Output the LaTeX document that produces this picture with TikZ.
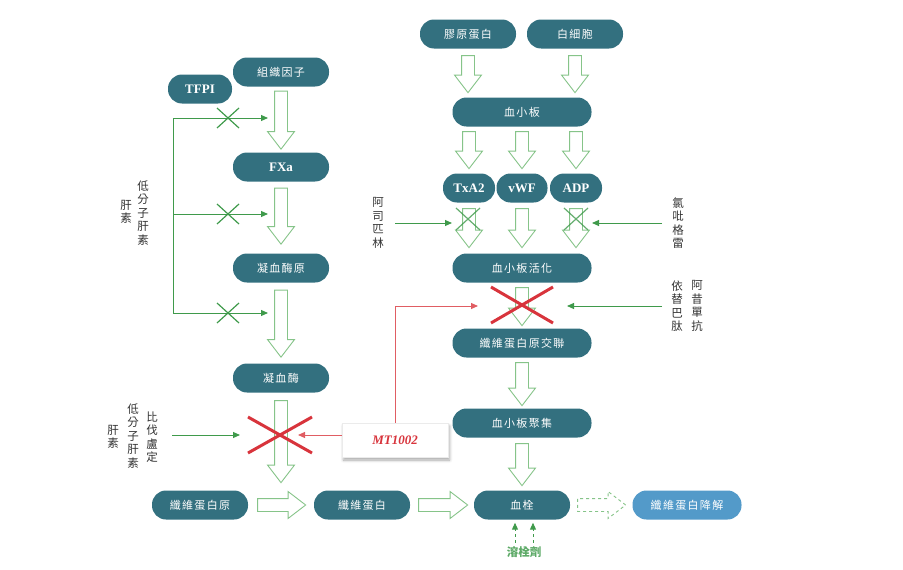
\documentclass[tikz,border=0pt]{standalone}
\usepackage{fontspec}
\setmainfont{Liberation Serif}
\newfontfamily\cjk[LetterSpace=12]{Noto Sans CJK TC}
\newfontfamily\cjkv{Noto Sans CJK TC}
\usetikzlibrary{shapes.arrows,arrows.meta,shadows.blur}

\definecolor{pillteal}{HTML}{33707F}
\definecolor{pillblue}{HTML}{539AC9}
\definecolor{hgreen}{HTML}{86C489}
\definecolor{ggreen}{HTML}{3F9A4B}
\definecolor{xred}{HTML}{D8343C}
\definecolor{labgray}{HTML}{333333}

\tikzset{
  pill/.style={rounded corners=14pt, fill=pillteal, text=white, minimum height=29pt,
    minimum width=96pt, inner sep=0pt, font=\cjk\fontsize{11}{13}\selectfont},
  latin/.style={font=\bfseries\fontsize{13}{15}\selectfont},
  hollow/.style={single arrow, draw=hgreen, fill=white, line width=0.9pt,
    inner sep=6pt, single arrow head extend=7pt, anchor=tail,
    single arrow tip angle=75, single arrow head indent=0pt, minimum height=#1},
  hdown/.style={hollow=#1, shape border rotate=270},
  hright/.style={hollow=#1},
  vlab/.style={align=center, text=labgray, inner sep=0pt,
    font=\cjkv\fontsize{11.5}{13.5}\selectfont},
  garrow/.style={ggreen, line width=1pt, -{Triangle[length=7pt,width=6pt]}},
  rarrow/.style={xred!80, line width=1pt, -{Triangle[length=7pt,width=6pt]}},
  gx/.style={ggreen, line width=1.2pt},
  rx/.style={xred, line width=3pt},
}

\begin{document}
\begin{tikzpicture}[x=1pt,y=-1pt]
  \useasboundingbox (0,0) rectangle (903,570);

  % coagulation cascade
  \node[pill] (tf) at (281,72) {組織因子};
  \node[pill, latin, minimum width=64pt] (tfpi) at (200,89) {TFPI};
  \node[pill, latin] (fxa) at (281,167) {FXa};
  \node[pill] (pro) at (281,268) {凝血酶原};
  \node[pill] (thr) at (281,378) {凝血酶};

  \node[hdown=58] (a1) at ([yshift=-4pt]tf.south) {};
  \node[hdown=56] (a2) at ([yshift=-6pt]fxa.south) {};
  \node[hdown=67] (a3) at ([yshift=-7pt]pro.south) {};

  % bottom row
  \node[pill] (fbg) at (200,505) {纖維蛋白原};
  \node[pill] (fbn) at (362,505) {纖維蛋白};
  \node[pill] (clot) at (522,505) {血栓};
  \node[pill, fill=pillblue, minimum width=109pt] (fdp) at (687,505) {纖維蛋白降解};

  \node[hdown=82] (a4) at ([yshift=-7.5pt]thr.south) {};
  \node[hright=48] (a5) at ([xshift=9pt]fbg.east) {};
  \node[hright=49] (a6) at ([xshift=8pt]fbn.east) {};
  \node[hright=48, dashed] (a7) at ([xshift=7pt]clot.east) {};

  % heparins
  \coordinate (hep) at (173,118);
  \draw[ggreen, line width=1pt] (hep) -- (173,313);
  \draw[garrow] (hep) -- (268,118);
  \draw[garrow] (173,214) -- (268,214);
  \draw[garrow] (173,313) -- (268,313);
  \draw[gx] (228,118) +(-11,-10) -- +(11,10) +(-11,10) -- +(11,-10);
  \draw[gx] (228,214) +(-11,-10) -- +(11,10) +(-11,10) -- +(11,-10);
  \draw[gx] (228,313) +(-11,-10) -- +(11,10) +(-11,10) -- +(11,-10);
  \node[vlab] (lmwh) at (143,213) {低\\分\\子\\肝\\素};
  \node[vlab] (uh) at (126,212) {肝\\素};

  \node[vlab] (biv) at (152,437) {比\\伐\\盧\\定};
  \node[vlab] (lmwh2) at (133,436) {低\\分\\子\\肝\\素};
  \node[vlab] (uh2) at (113,437) {肝\\素};
  \draw[garrow] (172,435) -- (240,435);

  % MT1002
  \node[draw=black!8, fill=white, minimum width=106pt, minimum height=34pt,
    blur shadow={shadow xshift=1.5pt, shadow yshift=-3pt, shadow opacity=35,
      shadow blur steps=6, shadow blur radius=3pt},
    text=xred, font=\bfseries\itshape\fontsize{13}{15}\selectfont] (mt) at (395,440) {MT1002};
  \draw[rarrow] ([yshift=5pt]mt.west) -- (298,435);
  \draw[rarrow] (mt.north) |- (478,306);
  \draw[rx] (280,435) +(-32,-18) -- +(32,18) +(-32,18) -- +(32,-18);

  % platelet pathway
  \node[pill] (col) at (468,34) {膠原蛋白};
  \node[pill] (wbc) at (575,34) {白細胞};
  \node[pill, minimum width=139pt] (plt) at (522,112) {血小板};
  \node[pill, latin, minimum width=52pt] (txa) at (469,188) {TxA2};
  \node[pill, latin, minimum width=51pt] (vwf) at (522,188) {vWF};
  \node[pill, latin, minimum width=52pt] (adp) at (576,188) {ADP};
  \node[pill, minimum width=139pt] (act) at (522,268) {血小板活化};
  \node[pill, minimum width=139pt] (xl) at (522,343) {纖維蛋白原交聯};
  \node[pill, minimum width=139pt] (agg) at (522,423) {血小板聚集};

  \node[hdown=37] (b1) at ([yshift=-6.5pt]col.south) {};
  \node[hdown=37] (b2) at ([yshift=-6.5pt]wbc.south) {};
  \node[hdown=37] (b3) at ([yshift=-4.5pt]txa |- plt.south) {};
  \node[hdown=37] (b4) at ([yshift=-4.5pt]plt.south) {};
  \node[hdown=37] (b5) at ([yshift=-4.5pt]adp |- plt.south) {};
  \node[hdown=39] (b6) at ([yshift=-5.5pt]txa.south) {};
  \node[hdown=39] (b7) at ([yshift=-5.5pt]vwf.south) {};
  \node[hdown=39] (b8) at ([yshift=-5.5pt]adp.south) {};
  \node[hdown=38] (b9) at ([yshift=-4.5pt]act.south) {};
  \node[hdown=43] (b10) at ([yshift=-4.5pt]xl.south) {};
  \node[hdown=42] (b11) at ([yshift=-5.5pt]agg.south) {};

  \node[vlab] (asp) at (378,223) {阿\\司\\匹\\林};
  \node[vlab] (clo) at (678,223) {氯\\吡\\格\\雷};
  \draw[garrow] (395,223) -- (452,223);
  \draw[garrow] (662,223) -- (592,223);
  \draw[gx, opacity=0.8] (468,219) +(-12,-11) -- +(12,11) +(-12,11) -- +(12,-11);
  \draw[gx, opacity=0.8] (576,219) +(-12,-11) -- +(12,11) +(-12,11) -- +(12,-11);

  \node[vlab] (abc) at (697,306) {阿\\昔\\單\\抗};
  \node[vlab] (ept) at (677,306) {依\\替\\巴\\肽};
  \draw[garrow] (662,306) -- (567,306);
  \draw[rx] (522,305) +(-31,-18) -- +(31,18) +(-31,18) -- +(31,-18);

  % thrombolytics
  \node[text=ggreen!85, font=\cjkv\bfseries\fontsize{11.5}{13}\selectfont] (lys) at (524,552) {溶栓劑};
  \draw[garrow, dashed] ([xshift=-9pt]lys.north) -- ([xshift=-9pt,yshift=-3pt]lys.north |- clot.south);
  \draw[garrow, dashed] ([xshift=9pt]lys.north) -- ([xshift=9pt,yshift=-3pt]lys.north |- clot.south);
\end{tikzpicture}
\end{document}
